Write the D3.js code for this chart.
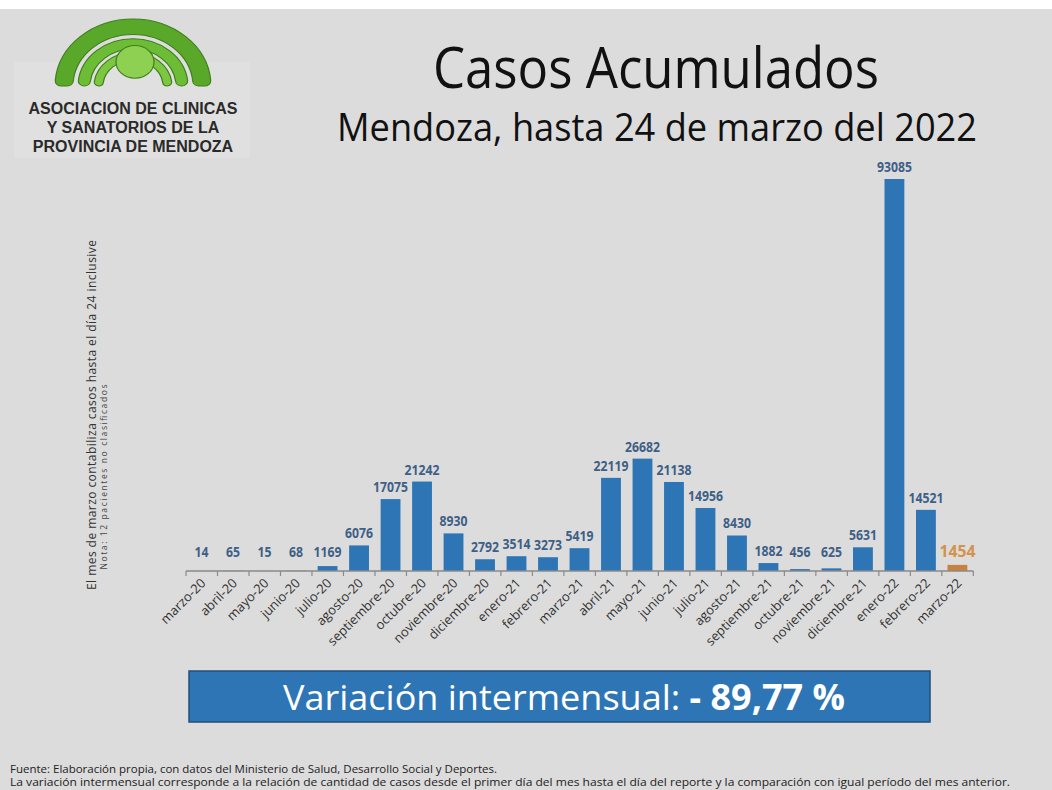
<!DOCTYPE html>
<html>
<head>
<meta charset="utf-8">
<script src="https://cdn.jsdelivr.net/npm/d3@7"></script>
<style>
  body { margin: 0; background: #dcdcdc; }
  svg { display: block; }
</style>
</head>
<body>
<div id="chart"></div>
<script>
// months shown on the x axis
const months = ["marzo-20","abril-20","mayo-20","junio-20","julio-20","agosto-20","septiembre-20",
  "octubre-20","noviembre-20","diciembre-20","enero-21","febrero-21","marzo-21","abril-21","mayo-21",
  "junio-21","julio-21","agosto-21","septiembre-21","octubre-21","noviembre-21","diciembre-21",
  "enero-22","febrero-22","marzo-22"];
// cases per month
const cases = [14,65,15,68,1169,6076,17075,21242,8930,2792,3514,3273,5419,22119,26682,21138,
  14956,8430,1882,456,625,5631,93085,14521,1454];
const partialMonth = "marzo-22";

const logoLines = ["ASOCIACION DE CLINICAS", "Y SANATORIOS DE LA", "PROVINCIA DE MENDOZA"];

const W = 1052, H = 790;
const svg = d3.select("#chart").append("svg").attr("width", W).attr("height", H);

svg.append("rect").attr("width", W).attr("height", H).attr("fill", "#dcdcdc");
svg.append("rect").attr("width", W).attr("height", 9).attr("fill", "#ffffff");

// logo ---------------------------------------------------------
const logo = svg.append("g");
logo.append("rect").attr("x", 14).attr("y", 62).attr("width", 236).attr("height", 96)
  .attr("fill", "#e0e0e0");
const arches = logo.append("g").attr("transform", "translate(133,86) scale(1,0.86)");
const bands = [[60, 78, "#5aa82a"], [43, 55, "#6cbd35"], [30, 39, "#7cc640"]];
bands.forEach(b => {
  arches.append("path")
    .attr("d", d3.arc().innerRadius(b[0]).outerRadius(b[1])
      .startAngle(-Math.PI / 2).endAngle(Math.PI / 2).cornerRadius(6)())
    .attr("fill", b[2]).attr("stroke", "#3f7f1c").attr("stroke-width", 1.2);
});
arches.append("circle").attr("cx", 2).attr("cy", -28).attr("r", 19)
  .attr("fill", "#8ed052").attr("stroke", "#3f7f1c").attr("stroke-width", 1.2);
logo.selectAll("text.logo").data(logoLines).enter().append("text")
  .attr("class", "logo")
  .attr("x", 133).attr("y", (d, i) => 114 + i * 19)
  .attr("text-anchor", "middle")
  .attr("font-family", "Liberation Sans, Arial, sans-serif")
  .attr("font-weight", "bold").attr("font-size", 16).attr("fill", "#2a2a2a")
  .text(d => d);

// titles -------------------------------------------------------
svg.append("text").attr("x", 656).attr("y", 88).attr("text-anchor", "middle")
  .attr("font-family", "Open Sans, sans-serif").attr("font-size", 56).attr("fill", "#111")
  .attr("textLength", 446).attr("lengthAdjust", "spacingAndGlyphs").text("Casos Acumulados");
svg.append("text").attr("x", 657).attr("y", 141).attr("text-anchor", "middle")
  .attr("font-family", "Open Sans, sans-serif").attr("font-size", 38).attr("fill", "#111")
  .attr("textLength", 640).attr("lengthAdjust", "spacingAndGlyphs")
  .text("Mendoza, hasta 24 de marzo del 2022");

// chart --------------------------------------------------------
const x = d3.scaleBand().domain(months).range([186, 973]).paddingInner(0.37).paddingOuter(0.18);
const y = d3.scaleLinear().domain([0, 93085]).range([571, 179]);

const g = svg.append("g");
g.selectAll("rect.bar").data(months).enter().append("rect")
  .attr("class", "bar")
  .attr("x", d => x(d))
  .attr("width", x.bandwidth())
  .attr("y", (d, i) => y(cases[i]))
  .attr("height", (d, i) => y(0) - y(cases[i]))
  .attr("fill", d => d === partialMonth ? "#c8813e" : "#2e75b6");

g.selectAll("text.val").data(months).enter().append("text")
  .attr("class", "val")
  .attr("x", d => x(d) + x.bandwidth() / 2)
  .attr("y", (d, i) => Math.min(y(cases[i]), 564) - 7)
  .attr("text-anchor", "middle")
  .attr("font-family", "Open Sans, sans-serif")
  .attr("font-weight", "bold")
  .attr("font-size", d => d === partialMonth ? 16 : 13.5)
  .attr("fill", d => d === partialMonth ? "#d4924c" : "#3e5f86")
  .attr("textLength", (d, i) => String(cases[i]).length * (d === partialMonth ? 9 : 7))
  .attr("lengthAdjust", "spacingAndGlyphs")
  .text((d, i) => cases[i]);

// axis line with ticks at band edges
const step = x.step();
const x0 = 186;
g.append("line").attr("x1", x0).attr("x2", x0 + step * months.length)
  .attr("y1", 571).attr("y2", 571).attr("stroke", "#8a8a8a").attr("stroke-width", 1.5);
g.selectAll("line.tick").data(d3.range(months.length + 1)).enter().append("line")
  .attr("class", "tick")
  .attr("x1", i => x0 + i * step).attr("x2", i => x0 + i * step)
  .attr("y1", 571).attr("y2", 576).attr("stroke", "#8a8a8a").attr("stroke-width", 1.2);

g.selectAll("text.lab").data(months).enter().append("text")
  .attr("class", "lab")
  .attr("transform", d => "translate(" + (x(d) + x.bandwidth() / 2 + 5) + ",584) rotate(-45)")
  .attr("text-anchor", "end")
  .attr("font-family", "Open Sans, sans-serif")
  .attr("font-size", 13).attr("fill", "#333")
  .text(d => d);

// side note
const note = svg.append("g").attr("transform", "translate(96,415) rotate(-90)");
note.append("text").attr("text-anchor", "middle")
  .attr("font-family", "Open Sans, sans-serif").attr("font-size", 12).attr("fill", "#333")
  .attr("textLength", 350)
  .text("El mes de  marzo contabiliza casos hasta el día 24  inclusive");
note.append("text").attr("x", -62).attr("y", 11).attr("text-anchor", "middle")
  .attr("font-family", "Open Sans, sans-serif").attr("font-size", 8.5).attr("fill", "#444")
  .attr("textLength", 185)
  .text("Nota: 12 pacientes no clasificados");

// variation box
svg.append("rect").attr("x", 189).attr("y", 671).attr("width", 741).attr("height", 51)
  .attr("fill", "#2e75b6").attr("stroke", "#1f4f7e").attr("stroke-width", 1.5);
const vt = svg.append("text").attr("x", 564).attr("y", 710).attr("text-anchor", "middle")
  .attr("font-family", "Open Sans, sans-serif").attr("font-size", 35).attr("fill", "#fff")
  .attr("textLength", 562).attr("lengthAdjust", "spacingAndGlyphs");
vt.append("tspan").text("Variación intermensual: ");
vt.append("tspan").attr("font-weight", "bold").text("- 89,77 %");

// footer
svg.append("text").attr("x", 10).attr("y", 773)
  .attr("font-family", "Open Sans, sans-serif").attr("font-size", 11).attr("fill", "#222")
  .attr("textLength", 487).attr("lengthAdjust", "spacingAndGlyphs")
  .text("Fuente: Elaboración propia, con datos del Ministerio de Salud, Desarrollo Social y Deportes.");
svg.append("text").attr("x", 10).attr("y", 786)
  .attr("font-family", "Open Sans, sans-serif").attr("font-size", 10.5).attr("fill", "#222")
  .attr("textLength", 1000).attr("lengthAdjust", "spacingAndGlyphs")
  .text("La variación intermensual corresponde a la relación de cantidad de casos desde el primer día del mes hasta el día del reporte y la comparación con igual período del mes anterior.");
</script>
</body>
</html>
